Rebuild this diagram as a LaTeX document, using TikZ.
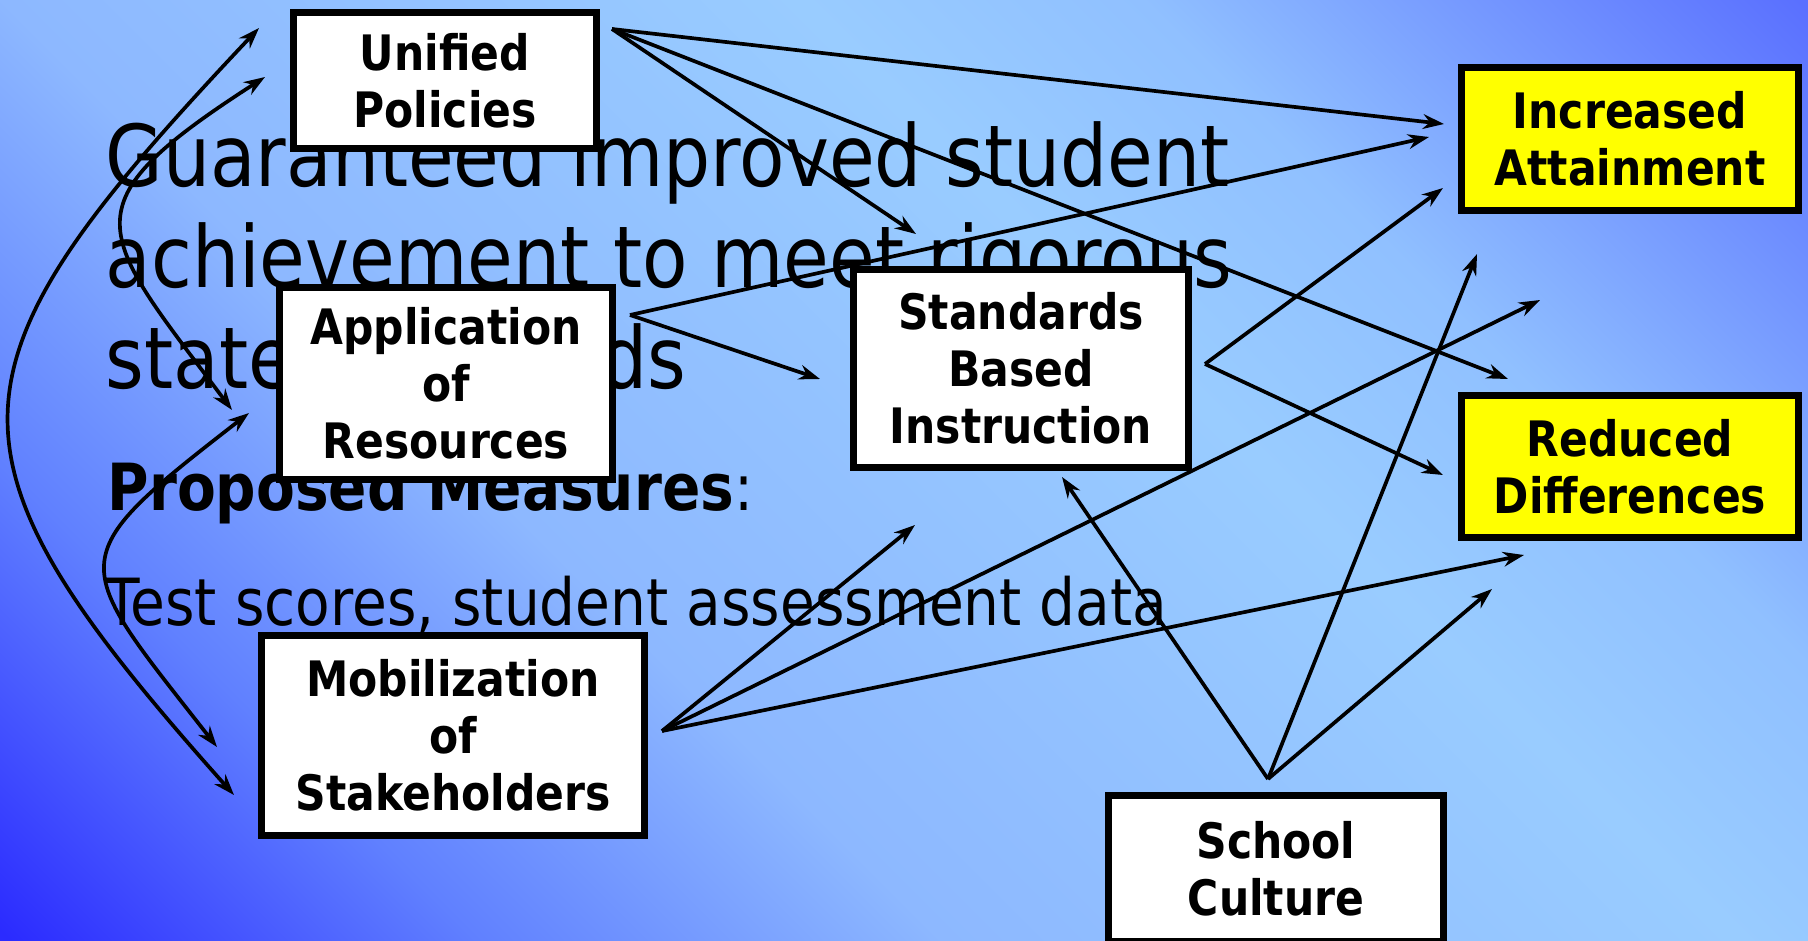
\documentclass[tikz,border=0pt]{standalone}
\usepackage{fontspec}
\setmainfont[FakeStretch=0.87]{DejaVu Sans}
\usepackage{tikz}
\usetikzlibrary{arrows.meta,positioning}

\definecolor{bgdark}{HTML}{2B2BFF}
\definecolor{bgmid}{HTML}{6080FF}
\definecolor{bgsoft}{HTML}{8DB8FF}
\definecolor{bglight}{HTML}{99CCFF}
\definecolor{bgpale}{HTML}{90C0FF}
\definecolor{bgtop}{HTML}{5A70FF}
\definecolor{goalyellow}{HTML}{FFFF00}

\pgfdeclarehorizontalshading{slidebg}{100bp}{color(0bp)=(bgdark); color(26.9bp)=(bgdark); color(34.8bp)=(bgmid); color(42.7bp)=(bgsoft); color(56.2bp)=(bglight); color(62bp)=(bgpale); color(73.1bp)=(bgtop); color(100bp)=(bgtop)}

\begin{document}
\begin{tikzpicture}[
    box/.style={draw, line width=2.1pt, fill=white, align=center, inner sep=0pt,
      font=\bfseries\fontsize{13.9}{16.2}\selectfont},
    goal/.style={box, fill=goalyellow},
    link/.style={-{Stealth[length=6pt,width=4.2pt]}, line width=1.05pt},
    twoway/.style={{Stealth[length=6pt,width=4.2pt]}-{Stealth[length=6pt,width=4.2pt]}, line width=1.05pt}
  ]
    \useasboundingbox (0,0) rectangle (18.08,9.4);

    % Background
    \begin{scope}
      \clip (0,0) rectangle (18.08,9.4);
      \shade[shading=slidebg, shading angle=45] (-1.46,-5.8) rectangle (19.54,15.2);
    \end{scope}

    % Slide text (anchored at the last line)
    \node[anchor=base west, inner sep=0pt, align=left, font=\fontsize{24.3}{28.6}\selectfont]
      (goaltext) at (1.05,5.52) {Guaranteed improved student\\achievement to meet rigorous\\state standards};
    \node[anchor=base west, inner sep=0pt, font=\fontsize{18.5}{21}\selectfont]
      (measures) at (1.07,4.30) {\textbf{Proposed Measures}:};
    \node[anchor=base west, inner sep=0pt, font=\fontsize{18.5}{21}\selectfont]
      (scores) at (1.05,3.15) {Test scores, student assessment data};

    % Arrow hubs
    \coordinate (polhub) at (6.12,9.11);
    \coordinate (reshub) at (6.30,6.25);
    \coordinate (sbihub) at (12.05,5.76);
    \coordinate (mobhub) at (6.62,2.09);
    \coordinate (culhub) at (12.68,1.61);

    % Arrow tips
    \coordinate (pol-att) at (14.44,8.16);
    \coordinate (pol-sbi) at (9.16,7.06);
    \coordinate (pol-dif) at (15.08,5.61);
    \coordinate (res-att) at (14.29,8.03);
    \coordinate (res-sbi) at (8.20,5.61);
    \coordinate (sbi-att) at (14.43,7.52);
    \coordinate (sbi-dif) at (14.43,4.65);
    \coordinate (mob-sbi) at (9.15,4.15);
    \coordinate (mob-att) at (15.40,6.40);
    \coordinate (mob-dif) at (15.24,3.85);
    \coordinate (cul-sbi) at (10.62,4.63);
    \coordinate (cul-att) at (14.77,6.86);
    \coordinate (cul-dif) at (14.92,3.51);

    % Left loop ends
    \coordinate (pol-l1) at (2.59,9.12);
    \coordinate (pol-l2) at (2.65,8.63);
    \coordinate (res-l1) at (2.32,5.30);
    \coordinate (res-l2) at (2.49,5.27);
    \coordinate (mob-l1) at (2.34,1.45);
    \coordinate (mob-l2) at (2.17,1.93);

    % Straight arrows
    \draw[link] (polhub) -- (pol-att);
    \draw[link] (polhub) -- (pol-sbi);
    \draw[link] (polhub) -- (pol-dif);
    \draw[link] (reshub) -- (res-att);
    \draw[link] (reshub) -- (res-sbi);
    \draw[link] (sbihub) -- (sbi-att);
    \draw[link] (sbihub) -- (sbi-dif);
    \draw[link] (mobhub) -- (mob-sbi);
    \draw[link] (mobhub) -- (mob-att);
    \draw[link] (mobhub) -- (mob-dif);
    \draw[link] (culhub) -- (cul-sbi);
    \draw[link] (culhub) -- (cul-att);
    \draw[link] (culhub) -- (cul-dif);

    % Curved two-way arrows
    \draw[twoway] (pol-l1) .. controls (-0.64,5.70) and (-0.74,4.90) .. (mob-l1);
    \draw[twoway] (pol-l2) .. controls (0.63,7.33) and (0.97,7.10) .. (res-l1);
    \draw[twoway] (res-l2) .. controls (0.58,3.79) and (0.70,3.81) .. (mob-l2);

    % Boxes
    \node[box, minimum width=3.025cm, minimum height=1.355cm] (policies) at (4.45,8.595) {Unified\\Policies};
    \node[box, minimum width=3.325cm, minimum height=1.915cm] (resources) at (4.46,5.565) {Application\\of\\Resources};
    \node[box, minimum width=3.825cm, minimum height=1.995cm] (stakeholders) at (4.53,2.045) {Mobilization\\of\\Stakeholders};
    \node[box, minimum width=3.345cm, minimum height=1.975cm] (instruction) at (10.21,5.715) {Standards\\Based\\Instruction};
    \node[box, minimum width=3.345cm, minimum height=1.455cm] (culture) at (12.76,0.715) {School\\Culture};
    \node[goal, minimum width=3.365cm, minimum height=1.425cm] (attainment) at (16.30,8.01) {Increased\\Attainment};
    \node[goal, minimum width=3.365cm, minimum height=1.415cm] (differences) at (16.30,4.735) {Reduced\\Differences};
\end{tikzpicture}
\end{document}
